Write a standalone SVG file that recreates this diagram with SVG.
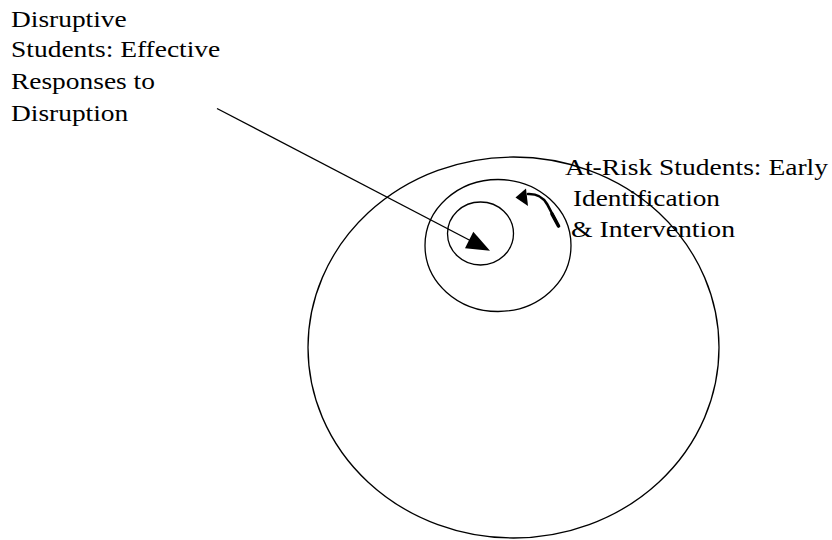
<svg xmlns="http://www.w3.org/2000/svg" width="832" height="540" viewBox="0 0 832 540">
<style>
.ring{fill:none;stroke:#000;stroke-width:1.3}
.lbl{font-family:"Liberation Serif","Times New Roman",serif;font-size:24px;fill:#000}
.conn{fill:none;stroke:#000;stroke-width:1.4}
</style>
<rect width="832" height="540" fill="#fff"/>
<g id="outer"><ellipse class="ring" cx="513.5" cy="347.5" rx="205.5" ry="190.5"/></g>
<g id="middle"><ellipse class="ring" cx="498" cy="245.5" rx="73" ry="66"/></g>
<g id="inner"><ellipse class="ring" cx="480.5" cy="233.5" rx="33" ry="31.5"/></g>
<g id="label-disruptive">
<text class="lbl" x="11" y="26.7" textLength="115.7" lengthAdjust="spacingAndGlyphs">Disruptive</text>
<text class="lbl" x="11" y="57.3" textLength="209.3" lengthAdjust="spacingAndGlyphs">Students: Effective</text>
<text class="lbl" x="11" y="88.5" textLength="143.9" lengthAdjust="spacingAndGlyphs">Responses to</text>
<text class="lbl" x="11" y="120.5" textLength="117.2" lengthAdjust="spacingAndGlyphs">Disruption</text>
</g>
<g id="label-atrisk">
<text class="lbl" x="565" y="174.5" textLength="263" lengthAdjust="spacingAndGlyphs">At-Risk Students: Early</text>
<text class="lbl" x="573" y="205.5" textLength="147" lengthAdjust="spacingAndGlyphs">Identification</text>
<text class="lbl" x="571" y="236.5" textLength="164" lengthAdjust="spacingAndGlyphs">&amp; Intervention</text>
</g>
<g id="connectors">
<line class="conn" x1="217" y1="108.5" x2="475" y2="243"/>
<polygon points="490,250.7 465,248.3 473.3,231.7" fill="#000"/>
<path d="M528,194 Q541,193.5 547,204 L556,221" fill="none" stroke="#000" stroke-width="2.6" stroke-linecap="round"/>
<path d="M552,214 L558.5,226" fill="none" stroke="#000" stroke-width="3.6" stroke-linecap="round"/>
<polygon points="515.5,197.5 526,188.5 528,206" fill="#000"/>
</g>
</svg>
